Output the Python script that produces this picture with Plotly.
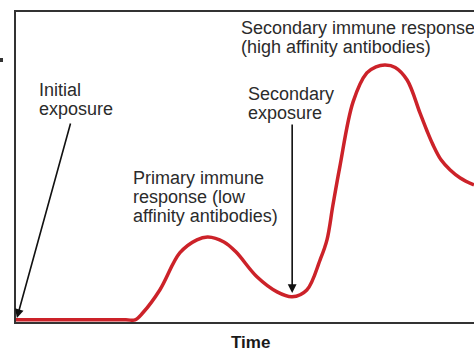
import plotly.graph_objects as go

# Antibody concentration over time (arbitrary units)
time = [0, 12, 24, 26.0, 27.7, 31.4, 35.8, 39.5, 41.9, 45.4, 48.0, 52.6, 57.0, 60.3,
        63.5, 66.4, 67.9, 69.2, 70.7, 73.6, 76.6, 78.6, 80.6, 82.8, 85.4, 88.2, 89.7,
        91.0, 92.8, 94.8, 97.0, 100]
antibody = [0, 0, 0, 0, 2.3, 9.7, 21.8, 26.0, 26.9, 25.3, 22.1, 14.0, 9.1, 7.5,
            9.7, 19.5, 26.0, 37.3, 49.7, 70.8, 80.2, 82.2, 82.8, 82.0, 77.9, 67.2, 61.5,
            57.0, 52.0, 48.7, 46.1, 43.8]

initial_exposure_t = 0.2
secondary_exposure_t = 60.3

W, H = 474, 355
L, R, T, B = 16, 0, 12, 33
PW, PH = W - L - R, H - T - B

def px(x):
    return (x - L) / PW

def py(y):
    return (H - B - y) / PH

FONT = "Liberation Sans, Arial, sans-serif"
TXT = "#2b2b2b"

fig = go.Figure()
fig.add_trace(go.Scatter(
    x=time, y=antibody, mode="lines",
    line=dict(color="#cc2229", width=3.5, shape="spline", smoothing=1.0),
    hoverinfo="skip", showlegend=False,
))

labels = [
    ("Initial", 37, 90),
    ("exposure", 37, 109),
    ("Secondary immune response", 239, 28),
    ("(high affinity antibodies)", 239, 47),
    ("Secondary", 246, 94),
    ("exposure", 246, 113),
    ("Primary immune", 131, 177.5),
    ("response (low", 131, 196.5),
    ("affinity antibodies)", 131, 215.5),
]
ann = []
for t, x, y in labels:
    ann.append(dict(text=t, x=px(x), y=py(y), xref="paper", yref="paper",
                    xanchor="left", yanchor="middle", showarrow=False,
                    font=dict(family=FONT, size=18, color=TXT)))
ann.append(dict(text="<b>Time</b>", x=px(250), y=py(342), xref="paper", yref="paper",
                xanchor="center", yanchor="middle", showarrow=False,
                font=dict(family=FONT, size=17, color="#1a1a1a")))
# arrows
ann.append(dict(text="", x=initial_exposure_t, y=0.6, xref="x", yref="y",
                ax=54, ay=-196, axref="pixel", ayref="pixel", showarrow=True,
                arrowhead=2, arrowsize=1.1, arrowwidth=1.6, arrowcolor="#111"))
ann.append(dict(text="", x=secondary_exposure_t, y=8.7, xref="x", yref="y",
                ax=0, ay=-170, axref="pixel", ayref="pixel", showarrow=True,
                arrowhead=2, arrowsize=1.1, arrowwidth=1.6, arrowcolor="#111"))

fig.update_layout(
    width=W, height=H,
    margin=dict(l=L, r=R, t=T, b=B, pad=0),
    paper_bgcolor="white", plot_bgcolor="white",
    annotations=ann,
    shapes=[dict(type="rect", xref="paper", yref="paper",
                 x0=px(0), x1=px(3), y0=py(62), y1=py(58),
                 fillcolor="#333", line=dict(width=0))],
    xaxis=dict(range=[0, 100], showgrid=False, zeroline=False, showticklabels=False,
               ticks="", showline=True, linecolor="#333", linewidth=2, mirror=True,
               layer="below traces", fixedrange=True),
    yaxis=dict(range=[-0.7, 100], showgrid=False, zeroline=False, showticklabels=False,
               ticks="", showline=True, linecolor="#333", linewidth=2, mirror=False,
               layer="below traces", fixedrange=True),
)
fig.write_html("out.html", config={"displayModeBar": False})
